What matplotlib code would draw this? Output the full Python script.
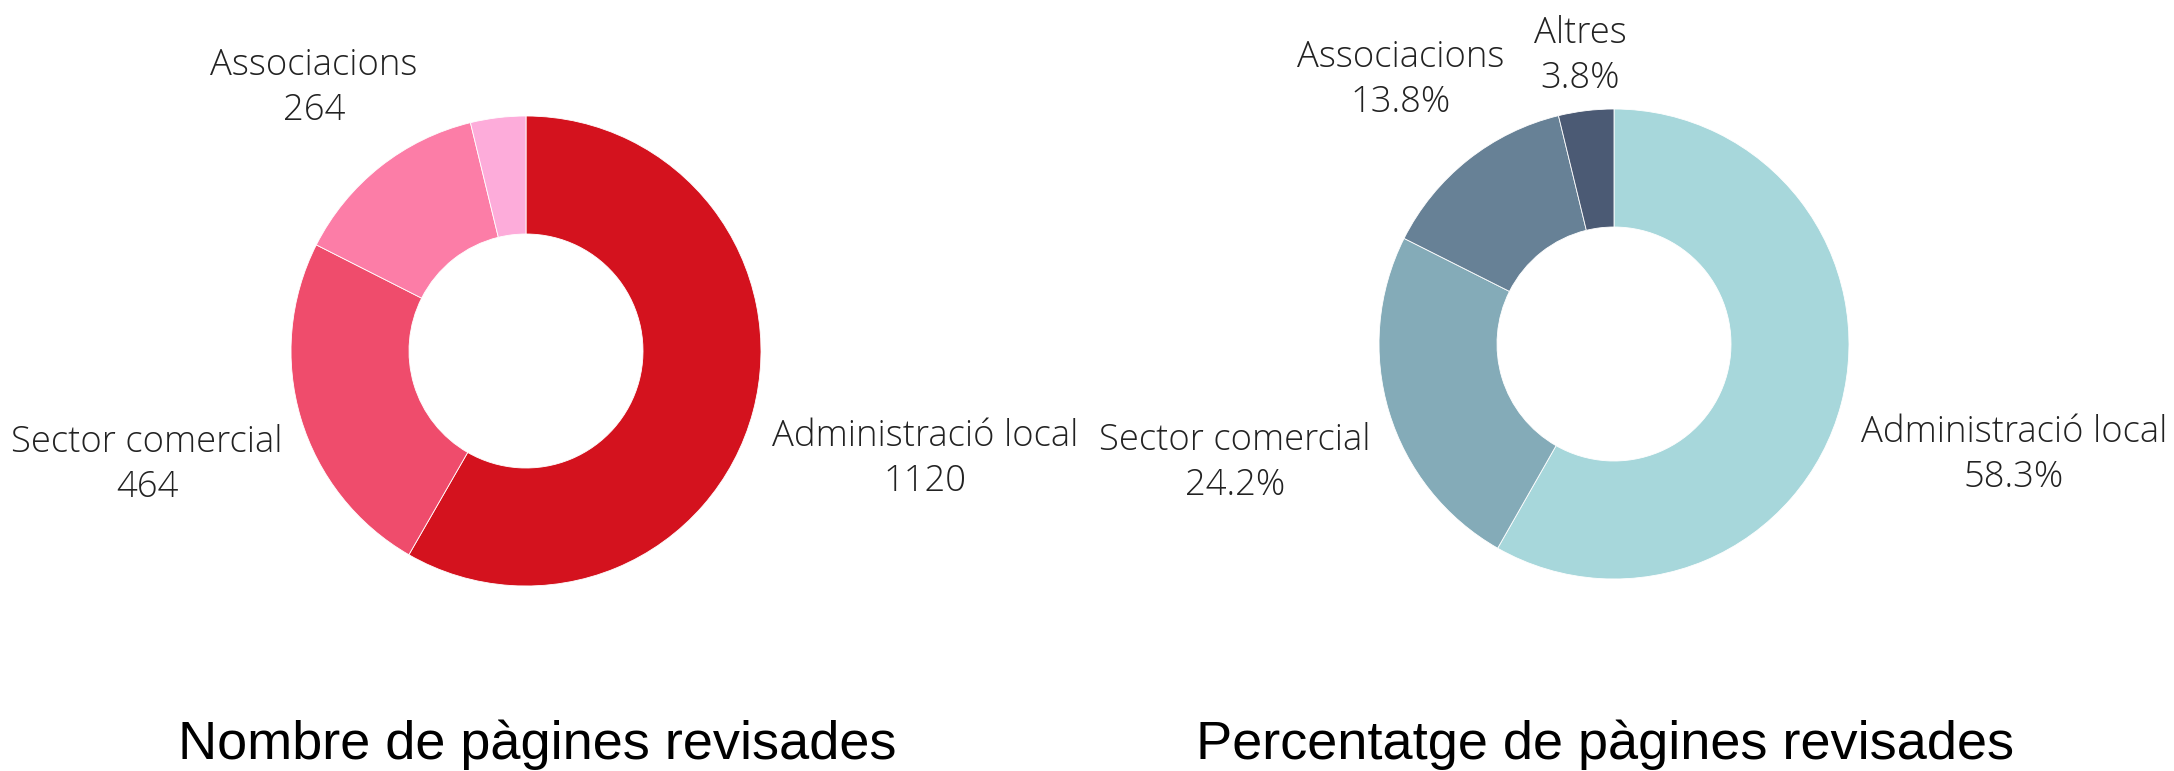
import matplotlib.pyplot as plt

# data
categories = ['Administració local', 'Sector comercial', 'Associacions', 'Altres']
pages = [1120, 464, 264, 73]
percent = [58.3, 24.2, 13.8, 3.8]

red_colors = ['#D4121E', '#EF4C6C', '#FC7DA7', '#FDACDA']
blue_colors = ['#A7D7DB', '#84ABB8', '#678196', '#4B5A74']

W, H = 2174, 771
R, HOLE = 235, 117

fig = plt.figure(figsize=(W / 100, H / 100), dpi=100)
ax = fig.add_axes([0, 0, 1, 1])


def donut(vals, colors, cx, cy):
    ax.pie(vals, colors=colors, startangle=90, counterclock=False,
           center=(cx, H - cy), radius=R,
           wedgeprops=dict(width=R - HOLE, edgecolor='white', linewidth=0.6))


def label(lines, cx, base):
    # base = baseline of the last line (pixels from top)
    n = len(lines)
    for i, s in enumerate(lines):
        y = base - (n - 1 - i) * 45
        ax.text(cx, H - y, s, ha='center', va='baseline', fontsize=26.2,
                family='Open Sans', fontweight='light', color='#222222')


donut(pages, red_colors, 526, 351)
donut(percent, blue_colors, 1614, 344)

# left labels (Altres not labelled on the count chart)
left_pos = [(925, 491), (147, 497), (314, 120)]
for name, v, (x, b) in zip(categories[:3], pages[:3], left_pos):
    label([name, str(v)], x, b)

right_pos = [(2014, 487), (1235, 495), (1401, 112), (1580, 88)]
for name, v, (x, b) in zip(categories, percent, right_pos):
    label([name, f'{v}%'], x, b)

ax.text(537, H - 759, 'Nombre de pàgines revisades', ha='center', va='baseline',
        fontsize=39, family='Liberation Sans', color='black')
ax.text(1605, H - 759, 'Percentatge de pàgines revisades', ha='center', va='baseline',
        fontsize=39, family='Liberation Sans', color='black')

ax.set_xlim(0, W)
ax.set_ylim(0, H)
ax.set_aspect('equal')
ax.axis('off')

fig.savefig('out.png', dpi=100, facecolor='white')
